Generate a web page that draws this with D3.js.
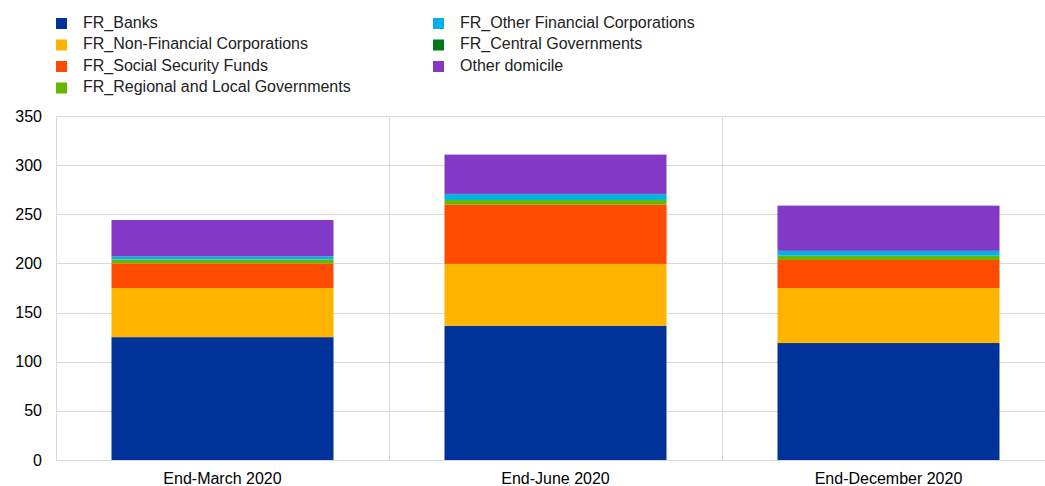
<!DOCTYPE html>
<html><head><meta charset="utf-8">
<script src="https://cdn.jsdelivr.net/npm/d3@7"></script>
<style>body{margin:0;background:#fff}svg{display:block}text{font-family:"Liberation Sans",Arial,sans-serif}</style>
</head><body>
<svg id="c" width="1045" height="486"></svg>
<script>
const categories = ["End-March 2020", "End-June 2020", "End-December 2020"];
const seriesNames = ["FR_Banks","FR_Non-Financial Corporations","FR_Social Security Funds","FR_Regional and Local Governments","FR_Other Financial Corporations","FR_Central Governments","Other domicile"];
const banks = [125, 136.5, 119];
const nonFinancial = [50, 63, 56];
const socialSecurity = [25, 60.3, 28.5];
const regionalLocal = [4, 4.8, 4.4];
const otherFinancial = [3, 5.8, 4.7];
const centralGov = [0.2, 0.3, 0.2];
const otherDomicile = [37, 40, 46];
const yTicks = [0, 50, 100, 150, 200, 250, 300, 350];
const colors = ["#003299","#FFB400","#FF4B00","#65B800","#00B1EA","#007816","#8139C6"];

(function () {
const seriesValues = [banks, nonFinancial, socialSecurity, regionalLocal, otherFinancial, centralGov, otherDomicile];
const rows = categories.map((c, i) => {
  const r = {cat: c};
  seriesNames.forEach((s, j) => r[s] = seriesValues[j][i]);
  return r;
});

const svg = d3.select("#c");
const pl = 56, pr = 1055, pt = 116, pb = 460;
const x = d3.scaleBand().domain(categories).range([pl, pr]).padding(0);
const y = d3.scaleLinear().domain([0, 350]).range([pb, pt]);

svg.append("g").selectAll("line").data(yTicks).join("line")
  .attr("x1", pl).attr("x2", 1045)
  .attr("y1", d => Math.round(y(d)) + 0.5).attr("y2", d => Math.round(y(d)) + 0.5)
  .attr("stroke", "#d9d9d9").attr("stroke-width", 1);
svg.append("g").selectAll("line").data(categories).join("line")
  .attr("x1", d => Math.round(x(d)) + 0.5).attr("x2", d => Math.round(x(d)) + 0.5)
  .attr("y1", pt).attr("y2", pb)
  .attr("stroke", "#d9d9d9").attr("stroke-width", 1);

const stack = d3.stack().keys(seriesNames)(rows);
const bw = x.bandwidth() * 2 / 3;
const off = x.bandwidth() / 6;
svg.append("g").selectAll("g").data(stack).join("g")
  .attr("fill", (d, i) => colors[i])
  .selectAll("rect").data(d => d).join("rect")
  .attr("x", d => x(d.data.cat) + off)
  .attr("width", bw)
  .attr("y", d => y(d[1]))
  .attr("height", d => Math.max(0, y(d[0]) - y(d[1])));

svg.append("g").selectAll("text").data(yTicks).join("text")
  .attr("x", 42).attr("y", d => y(d)).attr("dy", "0.35em")
  .attr("text-anchor", "end").attr("font-size", 16).attr("fill", "#000")
  .text(d => d);

svg.append("g").selectAll("text").data(categories).join("text")
  .attr("x", d => x(d) + x.bandwidth() / 2).attr("y", 478).attr("dy", "0.35em")
  .attr("text-anchor", "middle").attr("font-size", 16).attr("fill", "#000")
  .text(d => d);

const legPos = [[56,22],[56,43.5],[56,65],[56,86.5],[433,22],[433,43.5],[433,65]];
const leg = svg.append("g").selectAll("g").data(seriesNames).join("g")
  .attr("transform", (d, i) => `translate(${legPos[i][0]},${legPos[i][1]})`);
leg.append("rect").attr("x", 0).attr("y", -4).attr("width", 11).attr("height", 11)
  .attr("fill", (d, i) => colors[i]);
leg.append("text").attr("x", 27).attr("y", 0).attr("dy", "0.35em")
  .attr("font-size", 16).attr("fill", "#222").text(d => d);
})();
</script>
</body></html>
